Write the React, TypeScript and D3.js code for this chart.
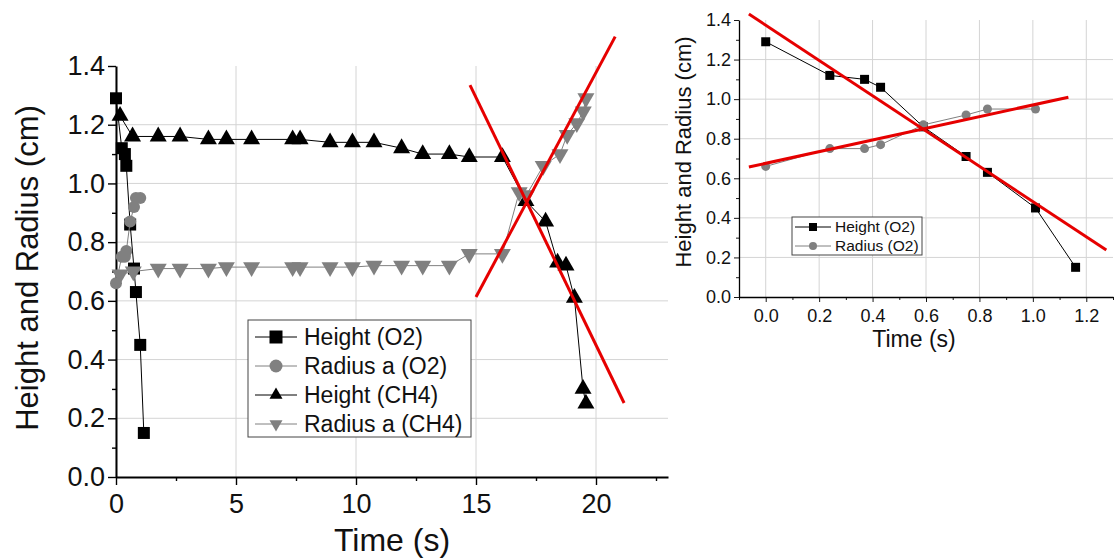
import React, { useEffect, useRef } from 'react'
import { select, scaleLinear, axisBottom, axisLeft, line, range } from 'd3'

// O2 droplet (same data in both panels)
const o2Time = [0, 0.24, 0.37, 0.43, 0.59, 0.75, 0.83, 1.01, 1.16]
const o2Height = [1.29, 1.12, 1.1, 1.06, 0.86, 0.71, 0.63, 0.45, 0.15]
const o2RadiusTime = [0, 0.24, 0.37, 0.43, 0.59, 0.75, 0.83, 1.01]
const o2Radius = [0.66, 0.75, 0.75, 0.77, 0.87, 0.92, 0.95, 0.95]

// CH4 droplet
const ch4HeightTime = [0.17, 0.69, 1.76, 2.67, 3.85, 4.6, 5.65, 7.36, 7.67, 8.92, 9.85, 10.75, 11.9, 12.78, 13.89, 14.72, 16.1, 17.08, 17.9, 18.4, 18.75, 19.1, 19.46, 19.58]
const ch4Height = [1.23, 1.16, 1.16, 1.16, 1.15, 1.15, 1.15, 1.15, 1.15, 1.14, 1.14, 1.14, 1.12, 1.1, 1.1, 1.09, 1.09, 0.94, 0.87, 0.73, 0.72, 0.61, 0.3, 0.25]
const ch4RadiusTime = [0.17, 0.72, 1.76, 2.67, 3.85, 4.6, 5.65, 7.36, 7.67, 8.92, 9.85, 10.75, 11.9, 12.78, 13.89, 14.72, 16.1, 16.8, 17.1, 17.8, 18.5, 18.8, 19.2, 19.47, 19.58]
const ch4Radius = [0.69, 0.7, 0.71, 0.71, 0.71, 0.715, 0.715, 0.715, 0.715, 0.715, 0.715, 0.72, 0.72, 0.72, 0.72, 0.76, 0.76, 0.97, 0.96, 1.06, 1.1, 1.165, 1.205, 1.245, 1.29]

// red linear fits (end points)
const leftFitHeight = [[14.75, 1.335], [21.17, 0.252]]
const leftFitRadius = [[15.0, 0.613], [20.8, 1.5]]
const rightFitHeight = [[-0.063, 1.43], [1.275, 0.237]]
const rightFitRadius = [[-0.063, 0.657], [1.133, 1.01]]

const leftXTicks = [0, 5, 10, 15, 20]
const leftYTicks = [0, 0.2, 0.4, 0.6, 0.8, 1.0, 1.2, 1.4]
const rightXTicks = [0, 0.2, 0.4, 0.6, 0.8, 1.0, 1.2]
const rightYTicks = [0, 0.2, 0.4, 0.6, 0.8, 1.0, 1.2, 1.4]

const leftLegend = ['Height (O2)', 'Radius a (O2)', 'Height (CH4)', 'Radius a (CH4)']
const rightLegend = ['Height (O2)', 'Radius (O2)']

const FONT = "'Liberation Sans', Arial, sans-serif"
const GREY = '#808080'
const RED = '#e60000'
const GRID = '#d4d4d4'

const zip = (xs, ys) => xs.map((t, i) => [t, ys[i]])

const marker = (shape, s) => {
    if (shape === 'square') return `M${-s / 2},${-s / 2}h${s}v${s}h${-s}Z`
    if (shape === 'circle') {
        const r = s / 2
        return `M${-r},0a${r},${r} 0 1,0 ${s},0a${r},${r} 0 1,0 ${-s},0Z`
    }
    const h = s * 0.87
    if (shape === 'up') return `M0,${(-2 * h) / 3}L${s / 2},${h / 3}L${-s / 2},${h / 3}Z`
    return `M0,${(2 * h) / 3}L${s / 2},${-h / 3}L${-s / 2},${-h / 3}Z`
}

const drawPanel = (g, cfg) => {
    const { x, y, xTicks, yTicks, xMinor, yMinor, font, major, minor, axisWidth, xPad, xFmt, yFmt } = cfg
    const [y0, y1] = y.range()
    const [x0, x1] = x.range()

    // grid
    g.append('g')
        .selectAll('line')
        .data(xTicks)
        .join('line')
        .attr('x1', d => x(d)).attr('x2', d => x(d))
        .attr('y1', y0).attr('y2', y1)
        .attr('stroke', GRID)
    g.append('g')
        .selectAll('line')
        .data(yTicks.filter(d => d > 0 && d < 1.4))
        .join('line')
        .attr('x1', x0).attr('x2', x1)
        .attr('y1', d => y(d)).attr('y2', d => y(d))
        .attr('stroke', GRID)

    // minor ticks
    g.append('g')
        .attr('transform', `translate(0,${y0})`)
        .call(axisBottom(x).tickValues(xMinor).tickSize(minor).tickSizeOuter(0).tickFormat(() => ''))
        .call(a => a.select('.domain').remove())
        .selectAll('line').attr('stroke-width', axisWidth * 0.7)
    g.append('g')
        .attr('transform', `translate(${x0},0)`)
        .call(axisLeft(y).tickValues(yMinor).tickSize(minor).tickSizeOuter(0).tickFormat(() => ''))
        .call(a => a.select('.domain').remove())
        .selectAll('line').attr('stroke-width', axisWidth * 0.7)

    // major axes
    const xa = g.append('g')
        .attr('transform', `translate(0,${y0})`)
        .call(axisBottom(x).tickValues(xTicks).tickSize(major).tickSizeOuter(0).tickPadding(xPad).tickFormat(xFmt))
    const ya = g.append('g')
        .attr('transform', `translate(${x0},0)`)
        .call(axisLeft(y).tickValues(yTicks).tickSize(major).tickSizeOuter(0).tickPadding(3).tickFormat(yFmt))
    for (const a of [xa, ya]) {
        a.attr('font-size', font).attr('font-family', FONT)
        a.selectAll('text').attr('fill', '#111')
        a.select('.domain').attr('stroke-width', axisWidth)
        a.selectAll('line').attr('stroke-width', axisWidth * 0.7)
    }
}

const drawSeries = (g, x, y, pts, color, shape, size) => {
    const path = line().x(d => x(d[0])).y(d => y(d[1]))
    g.append('path')
        .datum(pts)
        .attr('d', path)
        .attr('fill', 'none')
        .attr('stroke', color)
        .attr('stroke-width', 1)
    g.append('g')
        .selectAll('path')
        .data(pts)
        .join('path')
        .attr('transform', d => `translate(${x(d[0])},${y(d[1])})`)
        .attr('d', marker(shape, size))
        .attr('fill', color)
}

const drawFit = (g, x, y, pts, width) => {
    g.append('path')
        .datum(pts)
        .attr('d', line().x(d => x(d[0])).y(d => y(d[1])))
        .attr('stroke', RED)
        .attr('stroke-width', width)
        .attr('fill', 'none')
}

const drawLegend = (g, box, items, rowY, lineX, textX, font, size) => {
    g.append('rect')
        .attr('x', box[0]).attr('y', box[1])
        .attr('width', box[2] - box[0]).attr('height', box[3] - box[1])
        .attr('fill', 'white')
        .attr('stroke', '#444')
        .attr('stroke-width', 1)
    items.forEach((it, i) => {
        const yy = rowY[i]
        g.append('line')
            .attr('x1', lineX[0]).attr('x2', lineX[1])
            .attr('y1', yy).attr('y2', yy)
            .attr('stroke', it.color)
        g.append('path')
            .attr('transform', `translate(${(lineX[0] + lineX[1]) / 2},${yy})`)
            .attr('d', marker(it.shape, size))
            .attr('fill', it.color)
        g.append('text')
            .attr('x', textX).attr('y', yy)
            .attr('dy', '0.35em')
            .attr('font-size', font)
            .attr('font-family', FONT)
            .attr('fill', '#111')
            .text(it.label)
    })
}

const App = () => {
    const svgRef = useRef(null)

    useEffect(() => {
        const svg = select(svgRef.current)
        svg.selectAll('*').remove()

        // ---------- left panel ----------
        const xL = scaleLinear().domain([0, 23]).range([116, 668])
        const yL = scaleLinear().domain([0, 1.4]).range([477, 66])
        const left = svg.append('g')
        drawPanel(left, {
            x: xL, y: yL,
            xTicks: leftXTicks, yTicks: leftYTicks,
            xMinor: range(2.5, 23, 5), yMinor: range(0.1, 1.4, 0.2),
            font: 27, major: 8, minor: 4, axisWidth: 2, xPad: 9,
            xFmt: d => `${d}`, yFmt: d => d.toFixed(1),
        })
        drawSeries(left, xL, yL, zip(o2Time, o2Height), '#000', 'square', 12)
        drawSeries(left, xL, yL, zip(o2RadiusTime, o2Radius), GREY, 'circle', 12)
        drawSeries(left, xL, yL, zip(ch4HeightTime, ch4Height), '#000', 'up', 17)
        drawSeries(left, xL, yL, zip(ch4RadiusTime, ch4Radius), GREY, 'down', 17)
        drawFit(left, xL, yL, leftFitHeight, 3)
        drawFit(left, xL, yL, leftFitRadius, 3)

        left.append('text')
            .attr('x', 392).attr('y', 551)
            .attr('text-anchor', 'middle')
            .attr('font-size', 32).attr('font-family', FONT).attr('fill', '#111')
            .text('Time (s)')
        left.append('text')
            .attr('transform', 'translate(38,268) rotate(-90)')
            .attr('text-anchor', 'middle')
            .attr('font-size', 31).attr('font-family', FONT).attr('fill', '#111')
            .text('Height and Radius (cm)')

        drawLegend(left, [248, 320, 471, 437], [
            { label: leftLegend[0], color: '#000', shape: 'square' },
            { label: leftLegend[1], color: GREY, shape: 'circle' },
            { label: leftLegend[2], color: '#000', shape: 'up' },
            { label: leftLegend[3], color: GREY, shape: 'down' },
        ], [337, 366, 395, 424], [255, 297], 304, 23, 13)

        // ---------- right panel ----------
        const xR = scaleLinear().domain([-0.1, 1.3]).range([739, 1113])
        const yR = scaleLinear().domain([0, 1.4]).range([297, 20])
        const right = svg.append('g')
        drawPanel(right, {
            x: xR, y: yR,
            xTicks: rightXTicks, yTicks: rightYTicks,
            xMinor: range(-0.1, 1.31, 0.2), yMinor: range(0.1, 1.4, 0.2),
            font: 18, major: 5, minor: 3, axisWidth: 1.3, xPad: 7,
            xFmt: d => d.toFixed(1), yFmt: d => d.toFixed(1),
        })
        drawSeries(right, xR, yR, zip(o2Time, o2Height), '#000', 'square', 9)
        drawSeries(right, xR, yR, zip(o2RadiusTime, o2Radius), GREY, 'circle', 9)
        drawFit(right, xR, yR, rightFitHeight, 3)
        drawFit(right, xR, yR, rightFitRadius, 3)

        right.append('text')
            .attr('x', 914).attr('y', 347)
            .attr('text-anchor', 'middle')
            .attr('font-size', 23).attr('font-family', FONT).attr('fill', '#111')
            .text('Time (s)')
        right.append('text')
            .attr('transform', 'translate(691,152) rotate(-90)')
            .attr('text-anchor', 'middle')
            .attr('font-size', 22).attr('font-family', FONT).attr('fill', '#111')
            .text('Height and Radius (cm)')

        drawLegend(right, [792, 217, 922, 255], [
            { label: rightLegend[0], color: '#000', shape: 'square' },
            { label: rightLegend[1], color: GREY, shape: 'circle' },
        ], [227, 246], [795, 831], 835, 15.5, 8)
    }, [])

    return (
        <svg
            ref={svgRef}
            width={1117}
            height={558}
            style={{ position: 'absolute', left: 0, top: 0, background: 'white' }}
        />
    )
}

export default App
